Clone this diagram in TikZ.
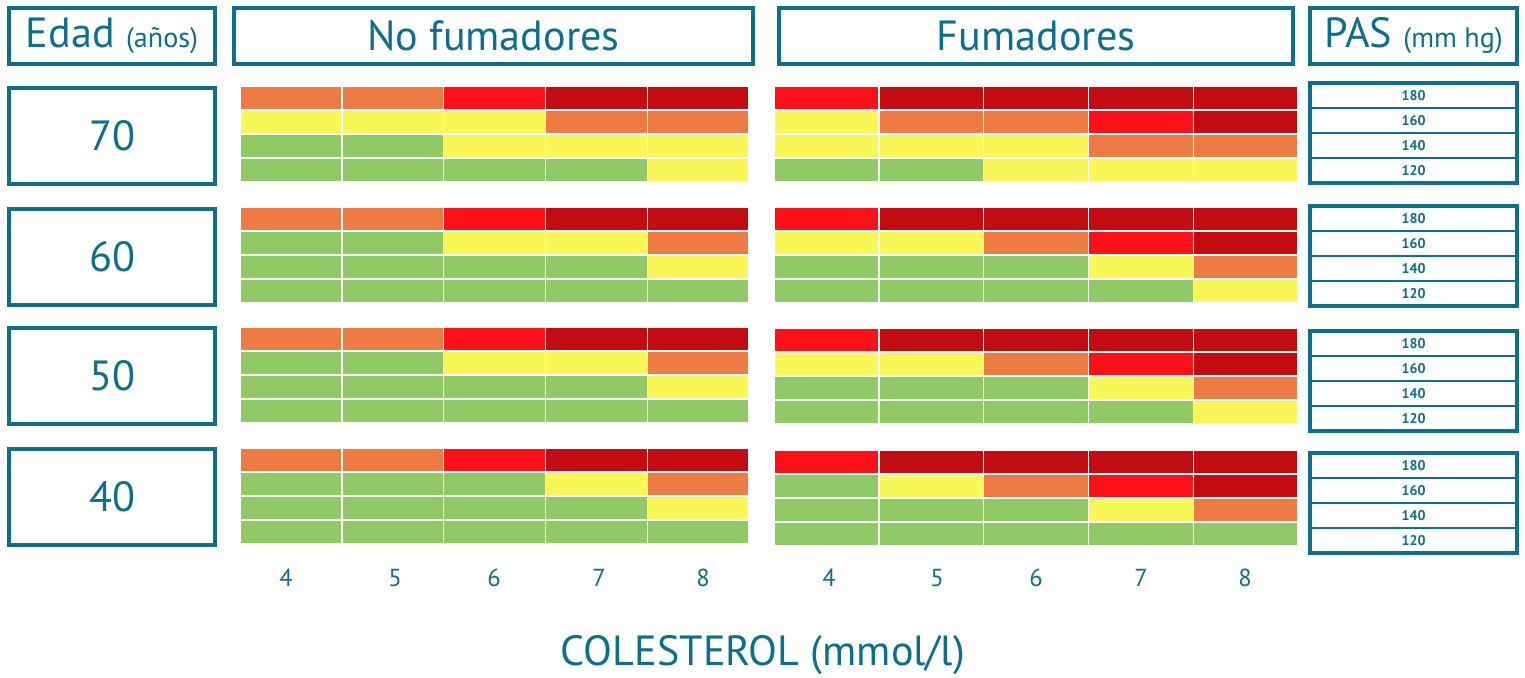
\documentclass[tikz,border=0pt]{standalone}
\usepackage{fontspec}
\setmainfont{PT Sans}
\usepackage{xcolor}
\usetikzlibrary{positioning}

\definecolor{teal}{HTML}{0C6F8D}
\definecolor{riskG}{HTML}{8FCA66}
\definecolor{riskY}{HTML}{F9F757}
\definecolor{riskO}{HTML}{EE7B43}
\definecolor{riskR}{HTML}{FC1119}
\definecolor{riskD}{HTML}{C30C12}

% one row of five cells: x0, top y, cell width, colours
\newcommand{\riskrow}[4]{%
  \foreach \c [count=\i from 0] in {#4}
    \filldraw[fill=risk\c, draw=white, line width=0.8pt] ({#1+\i*#3},#2) rectangle ++(#3,24);
}

\tikzset{
  tealbox/.style={rectangle, draw=teal, line width=2.2pt, inner sep=0pt, text=teal},
  headbox/.style={tealbox, minimum height=11.2mm, font=\fontsize{24}{28}\selectfont},
  agebox/.style={tealbox, minimum width=41.2mm, minimum height=19.2mm, font=\fontsize{24}{28}\selectfont},
  pasframe/.style={tealbox, minimum width=41.4mm, minimum height=20mm},
  pasrow/.style={rectangle, draw=teal, line width=1.5pt, inner sep=0pt, text=teal,
    minimum width=41.4mm, minimum height=5mm, font=\fontsize{8}{10}\selectfont\bfseries},
  colnum/.style={text=teal, font=\fontsize{14}{16}\selectfont}
}

\begin{document}
\begin{tikzpicture}[x=0.2mm, y=-0.2mm]
    \useasboundingbox[fill=white] (0,0) rectangle (1525,678);

    % headers
    \node[headbox, minimum width=41.2mm] (edad) at (112,36) {Edad {\fontsize{16}{18}\selectfont(años)}};
    \node[headbox, minimum width=103.8mm] (nofum) at (493.5,36) {No fumadores};
    \node[headbox, minimum width=102.8mm] (fum) at (1036,36) {Fumadores};
    \node[headbox, minimum width=41.4mm] (pas) at (1413.5,36) {PAS {\fontsize{16}{18}\selectfont(mm hg)}};

    % ages
    \node[agebox] (a70) at (112,136) {70};
    \node[agebox] (a60) at (112,257) {60};
    \node[agebox] (a50) at (112,376) {50};
    \node[agebox] (a40) at (112,497) {40};

    % no fumadores
    \riskrow{240}{86}{101.8}{O,O,R,D,D}
    \riskrow{240}{110}{101.8}{Y,Y,Y,O,O}
    \riskrow{240}{134}{101.8}{G,G,Y,Y,Y}
    \riskrow{240}{158}{101.8}{G,G,G,G,Y}

    \riskrow{240}{207}{101.8}{O,O,R,D,D}
    \riskrow{240}{231}{101.8}{G,G,Y,Y,O}
    \riskrow{240}{255}{101.8}{G,G,G,G,Y}
    \riskrow{240}{279}{101.8}{G,G,G,G,G}

    \riskrow{240}{327}{101.8}{O,O,R,D,D}
    \riskrow{240}{351}{101.8}{G,G,Y,Y,O}
    \riskrow{240}{375}{101.8}{G,G,G,G,Y}
    \riskrow{240}{399}{101.8}{G,G,G,G,G}

    \riskrow{240}{448}{101.8}{O,O,R,D,D}
    \riskrow{240}{472}{101.8}{G,G,G,Y,O}
    \riskrow{240}{496}{101.8}{G,G,G,G,Y}
    \riskrow{240}{520}{101.8}{G,G,G,G,G}

    % fumadores
    \riskrow{774}{86}{104.8}{R,D,D,D,D}
    \riskrow{774}{110}{104.8}{Y,O,O,R,D}
    \riskrow{774}{134}{104.8}{Y,Y,Y,O,O}
    \riskrow{774}{158}{104.8}{G,G,Y,Y,Y}

    \riskrow{774}{207}{104.8}{R,D,D,D,D}
    \riskrow{774}{231}{104.8}{Y,Y,O,R,D}
    \riskrow{774}{255}{104.8}{G,G,G,Y,O}
    \riskrow{774}{279}{104.8}{G,G,G,G,Y}

    \riskrow{774}{328}{104.8}{R,D,D,D,D}
    \riskrow{774}{352}{104.8}{Y,Y,O,R,D}
    \riskrow{774}{376}{104.8}{G,G,G,Y,O}
    \riskrow{774}{400}{104.8}{G,G,G,G,Y}

    \riskrow{774}{450}{104.8}{R,D,D,D,D}
    \riskrow{774}{474}{104.8}{G,Y,O,R,D}
    \riskrow{774}{498}{104.8}{G,G,G,Y,O}
    \riskrow{774}{522}{104.8}{G,G,G,G,G}

    % PAS
    \foreach \g/\top in {70/83, 60/206, 50/331, 40/453} {
        \foreach \v [count=\k from 0] in {180,160,140,120}
            \node[pasrow] (p\g-\v) at (1413.5,{\top+12.5+25*\k}) {\v};
        \node[pasframe] (pf\g) at (1413.5,{\top+50}) {};
    }

    % colesterol
    \foreach \n/\x in {4/286, 5/395, 6/494, 7/599, 8/703}
        \node[colnum] (n\n) at (\x,578) {\n};
    \foreach \n/\x in {4/829, 5/937, 6/1036, 7/1141, 8/1245}
        \node[colnum] (f\n) at (\x,578) {\n};
    \node[text=teal, font=\fontsize{24}{28}\selectfont] (chol) at (763,655) {COLESTEROL (mmol/l)};
\end{tikzpicture}
\end{document}
